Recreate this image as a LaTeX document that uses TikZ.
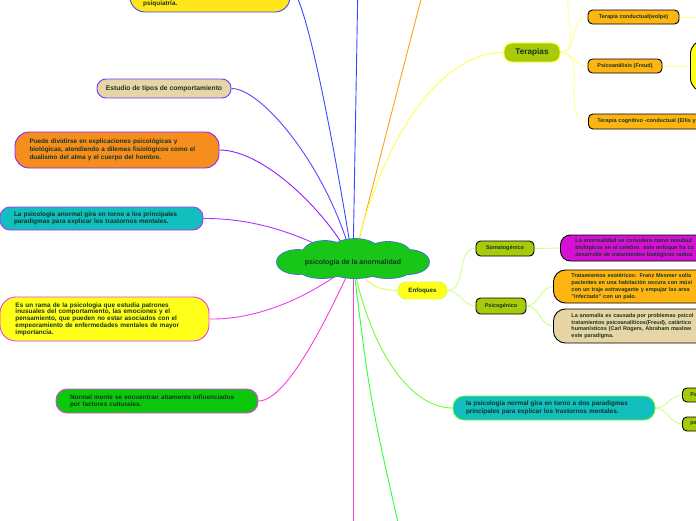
\documentclass[tikz,border=0pt]{standalone}
\usepackage{fontspec}
\setmainfont{Liberation Sans}
\usetikzlibrary{backgrounds}
\definecolor{txt}{RGB}{22,52,34}
\definecolor{cloudg}{RGB}{24,198,24}
\definecolor{cloudedge}{RGB}{60,120,210}
\definecolor{yelA}{RGB}{255,229,26}
\definecolor{yelB}{RGB}{255,255,26}
\definecolor{orng}{RGB}{246,142,30}
\definecolor{cyanA}{RGB}{18,190,190}
\definecolor{greenA}{RGB}{12,200,12}
\definecolor{tan}{RGB}{232,213,165}
\definecolor{amber}{RGB}{255,181,17}
\definecolor{magB}{RGB}{213,17,213}
\definecolor{lime}{RGB}{167,203,10}
\definecolor{blueA}{RGB}{58,70,255}
\definecolor{blueB}{RGB}{105,60,255}
\definecolor{purA}{RGB}{140,34,255}
\definecolor{purB}{RGB}{176,48,255}
\definecolor{magA}{RGB}{238,60,238}
\definecolor{pinkA}{RGB}{255,60,215}
\definecolor{orline}{RGB}{255,160,32}
\definecolor{grline}{RGB}{51,255,51}
\definecolor{yline}{RGB}{255,255,80}
\definecolor{eline}{RGB}{215,255,80}
\definecolor{nline}{RGB}{110,255,51}
\definecolor{paley}{RGB}{255,255,150}
\definecolor{paleg}{RGB}{205,255,140}
\begin{document}
\begin{tikzpicture}[x=1pt,y=-1pt,
  box/.style={draw,line width=0.9pt,rounded corners=#1,font=\fontsize{6.4}{7.3}\selectfont\bfseries,text=txt,align=left,inner ysep=1pt},
  box/.default=6pt,
  sub/.style={font=\fontsize{5.5}{6.7}\selectfont\bfseries},
  tag/.style={box=4.5pt,draw=black,fill=amber,align=center,inner sep=0pt,font=\fontsize{5.5}{6.5}\selectfont\bfseries},
  link/.style={line width=0.9pt}]
\useasboundingbox (0,0) rectangle (696,520);
% centre (cloud made of puffs)
\foreach \cx/\cy/\rx/\ry in {298/262/21/12,408/262/21/12,325/253/22/12,355/251/24/12,388/253/22/11,322/270/22/8,355/271/24/7,388/270/22/8,353/262/60/12}
  \draw[cloudedge,line width=1.8pt] (\cx,\cy) ellipse [x radius=\rx pt,y radius=\ry pt];
\foreach \cx/\cy/\rx/\ry in {298/262/21/12,408/262/21/12,325/253/22/12,355/251/24/12,388/253/22/11,322/270/22/8,355/271/24/7,388/270/22/8,353/262/60/12}
  \fill[cloudg] (\cx,\cy) ellipse [x radius=\rx pt,y radius=\ry pt];
\node[font=\fontsize{7}{8}\selectfont\bfseries,text=txt,inner sep=1pt] (root) at (353,263) {psicologia de la anormalidad};
% left side
\node[box=15pt,fill=yelA,draw=blueA,minimum width=160pt,minimum height=46pt] (psiq) at (210,-11) {};
\node[font=\fontsize{6.4}{7.3}\selectfont\bfseries,text=txt,anchor=base west,inner sep=0pt] (psiqtxt) at (143,5) {psiquiatría.};
\node[box=9pt,fill=tan,draw=blueB,align=center,minimum width=134pt,minimum height=19pt,font=\fontsize{6.7}{7.3}\selectfont\bfseries] (estudio) at (164,88.5) {Estudio de tipos de comportamiento};
\node[box=14pt,fill=orng,draw=purA,inner xsep=14.5pt,text width=175pt,minimum height=36pt,font=\fontsize{6.4}{8.3}\selectfont\bfseries] (dividir) at (117,150) {Puede dividirse en explicaciones psicológicas y\\biológicas, atendiendo a dilemas fisiológicos como el\\dualismo del alma y el cuerpo del hombre.};
\node[box=10pt,fill=cyanA,draw=purB,inner xsep=14pt,text width=175pt,minimum height=23pt] (paradig) at (101.5,218.5) {La psicologia anormal gira en torno a los principales\\paradigmas para explicar los trastornos mentales.};
\node[box=16pt,fill=yelB,draw=magA,inner xsep=15.5pt,text width=178pt,minimum height=44pt,font=\fontsize{6.4}{6.8}\selectfont\bfseries] (rama) at (104.5,319) {Es un rama de la psicologia que estudia patrones\\inusuales del comportamiento, las emociones y el\\pensamiento, que pueden no estar asociados con el\\empeoramiento de enfermedades mentales de mayor\\importancia.};
\node[box=11pt,fill=greenA,draw=magA,inner xsep=14pt,text width=174pt,minimum height=24pt,font=\fontsize{6.4}{7}\selectfont\bfseries] (cultura) at (157,401) {Normal mente se encuentran altamente influenciados\\por factores culturales.};
% Terapias
\node[box=8pt,fill=lime,draw=yelB,minimum width=56pt,minimum height=19pt,align=center,font=\fontsize{8.2}{9}\selectfont\bfseries] (terapias) at (532,52.5) {Terapias};
\node[tag,minimum width=91pt,minimum height=14pt] (wolpe) at (633.5,17) {Terapia conductual(wolpe)};
\node[tag,minimum width=74pt,minimum height=14pt] (freud) at (625,66) {Psicoanálisis (Freud)};
\node[tag,anchor=west,inner xsep=9pt,text width=122pt,align=left,minimum height=15pt] (ellis) at (588,121.5) {Terapia cognitivo -conductual (Ellis y};
\node[box=14pt,draw=black,fill=yelB,anchor=west,minimum width=40pt,minimum height=52pt] (freudnota) at (690,66) {};
% Enfoques
\node[box=8pt,fill=yelB,draw=eline,minimum width=49pt,minimum height=17pt,align=center,font=\fontsize{6.2}{7}\selectfont\bfseries] (enfoques) at (422.5,290.5) {Enfoques};
\node[tag,fill=lime,minimum width=58pt,minimum height=15pt] (somato) at (505,248.5) {Somatogénico};
\node[tag,fill=lime,minimum width=50pt,minimum height=16pt] (psicog) at (501,306) {Psicogénico};
\node[box=10pt,sub,draw=black,fill=magB,anchor=west,inner xsep=15pt,text width=190pt,minimum height=26pt] (biolog) at (560,248) {La anormalidad se considera como resultad\\biológicos en el celebro. este enfoque ha co\\desarrollo de tratamientos biológicos radica};
\node[box=12pt,sub,draw=black,fill=amber,anchor=west,inner xsep=18pt,text width=190pt,minimum height=33pt] (mesmer) at (553,286.5) {Tratamientos esotéricos: Franz Mesmer solía\\pacientes en una habitación oscura con músi\\con un traje extravagante y empujar las area\\"infectado" con un palo.};
\node[box=12pt,sub,draw=black,fill=tan,anchor=west,inner xsep=18pt,text width=190pt,minimum height=34pt] (psicol) at (553,326) {La anomalía es causada por problemas psicol\\tratamientos psicoanalíticos(Freud), catártico\\humanísticos (Carl Rogers, Abraham maslow\\este paradigma.};
% normal
\node[box=11pt,fill=cyanA,draw=nline,inner xsep=13pt,text width=176pt,minimum height=24pt,font=\fontsize{6.4}{7.7}\selectfont\bfseries] (normal) at (554,408) {la psicologia normal gira en torno a dos paradigmas\\principales para explicar los trastornos mentales.};
\node[tag,fill=lime,anchor=west,inner xsep=8pt,text width=30pt,align=left,minimum height=14pt] (paA) at (682,395) {Pa};
\node[tag,fill=lime,anchor=west,inner xsep=8pt,text width=30pt,align=left,minimum height=14pt] (paB) at (682,424) {pa};
% branches off the page
\coordinate (upblue) at (358,-20); \coordinate (uporange) at (424,-12);
\coordinate (downpink) at (353,540); \coordinate (downgreen) at (402,540);
\coordinate (upterap) at (578,-10); \coordinate (wolpeout) at (710,17);
\begin{scope}[on background layer]
\draw[link,blueA] (psiq.east) .. controls (305,-11) and (335,150) .. (root.center);
\draw[link,blueA] (upblue) -- (root.center);
\draw[link,orline] (uporange) .. controls (400,80) .. (root.center);
\draw[link,blueB] (estudio.east) .. controls (262,88) and (330,170) .. (root.center);
\draw[link,purA] (dividir.east) .. controls (265,150) and (330,215) .. (root.center);
\draw[link,purB] (paradig.east) .. controls (270,218) and (320,245) .. (root.center);
\draw[link,magA] (rama.east) .. controls (265,320) and (320,290) .. (root.center);
\draw[link,pinkA] (cultura.east) .. controls (290,401) and (335,300) .. (root.center);
\draw[link,pinkA] (downpink) -- (root.center);
\draw[link,grline] (downgreen) .. controls (370,400) .. (root.center);
\draw[link,yline] (root.center) .. controls (380,140) and (440,52) .. (terapias.west);
\draw[link,eline] (root.center) .. controls (370,288) and (380,290) .. (enfoques.west);
\draw[link,nline] (root.center) .. controls (370,350) and (410,408) .. (normal.west);
% children
\foreach \c in {upterap,wolpe,freud,ellis} \draw[link,paley] (terapias.east) to[out=0,in=180] (\c.west);
\draw[link,paley] (wolpe.east) -- (wolpeout);
\draw[link,paley] (freud.east) -- (freudnota.west);
\foreach \c in {somato,psicog} \draw[link,paleg] (enfoques.east) to[out=0,in=180] (\c.west);
\draw[link,paleg] (somato.east) -- (biolog.west);
\foreach \c in {mesmer,psicol} \draw[link,paleg] (psicog.east) to[out=0,in=180] (\c.west);
\foreach \c in {paA,paB} \draw[link,paleg] (normal.east) to[out=0,in=180] (\c.west);
\end{scope}
\end{tikzpicture}
\end{document}
